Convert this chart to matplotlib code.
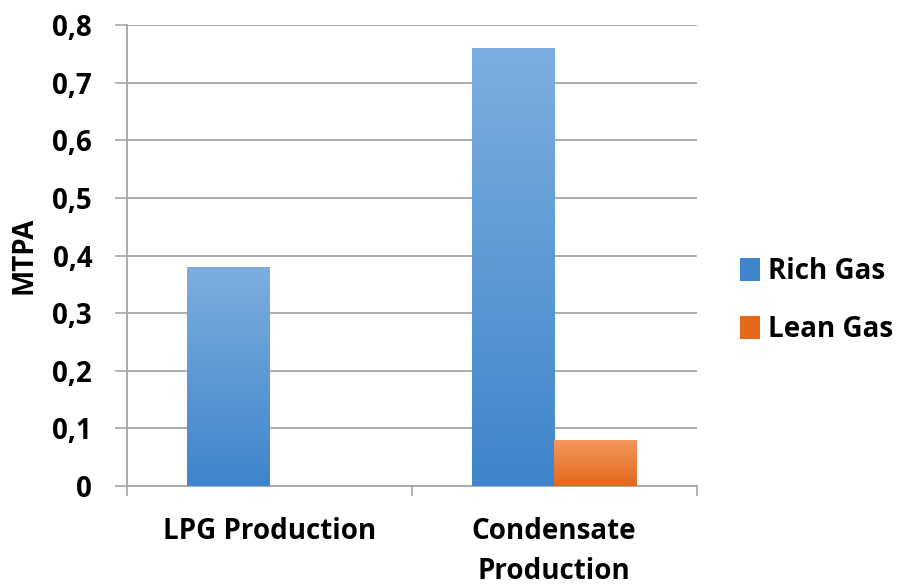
import matplotlib.pyplot as plt
import numpy as np
from matplotlib.colors import LinearSegmentedColormap
from matplotlib.patches import Patch

plt.rcParams['font.family'] = ['Open Sans', 'DejaVu Sans']
plt.rcParams['font.weight'] = 'bold'

# --- Datos ---
categorias = ['LPG Production', 'Condensate\nProduction']
rich_gas = [0.38, 0.76]
lean_gas = [0.0, 0.08]
ticks_y = [0, 0.1, 0.2, 0.3, 0.4, 0.5, 0.6, 0.7, 0.8]
etiquetas_y = ['0', '0,1', '0,2', '0,3', '0,4', '0,5', '0,6', '0,7', '0,8']

azul = ('#7EAEE0', '#3E85CB')
naranja = ('#F59860', '#E2691A')
tam = 20

fig = plt.figure(figsize=(9, 5.87), dpi=100)
ax = fig.add_axes([0.141, 0.172, 0.633, 0.785])

x = np.arange(len(categorias))
ancho = 0.29


def barras_degradado(ax, posiciones, valores, colores):
    cmap = LinearSegmentedColormap.from_list('g', [colores[1], colores[0]])
    grad = np.linspace(0, 1, 256).reshape(-1, 1)
    barras = ax.bar(posiciones, valores, ancho, color='none', edgecolor='none', zorder=3)
    for b in barras:
        if b.get_height() <= 0:
            continue
        x0, y0 = b.get_x(), b.get_y()
        im = ax.imshow(grad, cmap=cmap, origin='lower', aspect='auto',
                       extent=(x0, x0 + b.get_width(), y0, y0 + b.get_height()),
                       zorder=3)
        im.set_clip_path(b)
    return barras


barras_degradado(ax, x - ancho / 2, rich_gas, azul)
barras_degradado(ax, x + ancho / 2, lean_gas, naranja)

ax.set_xlim(-0.5, 1.5)
ax.set_ylim(0, 0.8)
ax.set_yticks(ticks_y)
ax.set_yticklabels(etiquetas_y, fontsize=tam, fontweight='bold')
ax.yaxis.grid(True, color='#A6A6A6', linewidth=1.3, zorder=0)
ax.set_axisbelow(True)

# Marcas entre categorias, etiquetas en el centro
ax.set_xticks([-0.5, 0.5, 1.5])
ax.set_xticklabels([])
ax.set_xticks(x, minor=True)
ax.set_xticklabels(categorias, minor=True, fontsize=tam, fontweight='bold',
                   linespacing=1.5)
ax.tick_params(axis='x', which='minor', length=0, pad=22)
ax.tick_params(axis='x', which='major', length=7, color='#A6A6A6', width=1.2)
ax.tick_params(axis='y', length=9, color='#A6A6A6', width=1.2, pad=16)

for lado in ['top', 'right']:
    ax.spines[lado].set_visible(False)
ax.spines['left'].set_color('#A6A6A6')
ax.spines['left'].set_linewidth(1.3)
ax.spines['bottom'].set_color('#A6A6A6')
ax.spines['bottom'].set_linewidth(1.3)

ax.set_ylabel('MTPA', fontsize=tam, fontweight='bold', labelpad=10)

handles = [Patch(facecolor=azul[1], label='Rich Gas'),
           Patch(facecolor=naranja[1], label='Lean Gas')]
fig.legend(handles=handles, loc='center left', bbox_to_anchor=(0.807, 0.488),
           frameon=False, handlelength=0.7, handleheight=0.9,
           handletextpad=0.3, labelspacing=1.05, borderpad=0,
           prop={'weight': 'bold', 'size': tam})

fig.savefig('out.png', dpi=100)
